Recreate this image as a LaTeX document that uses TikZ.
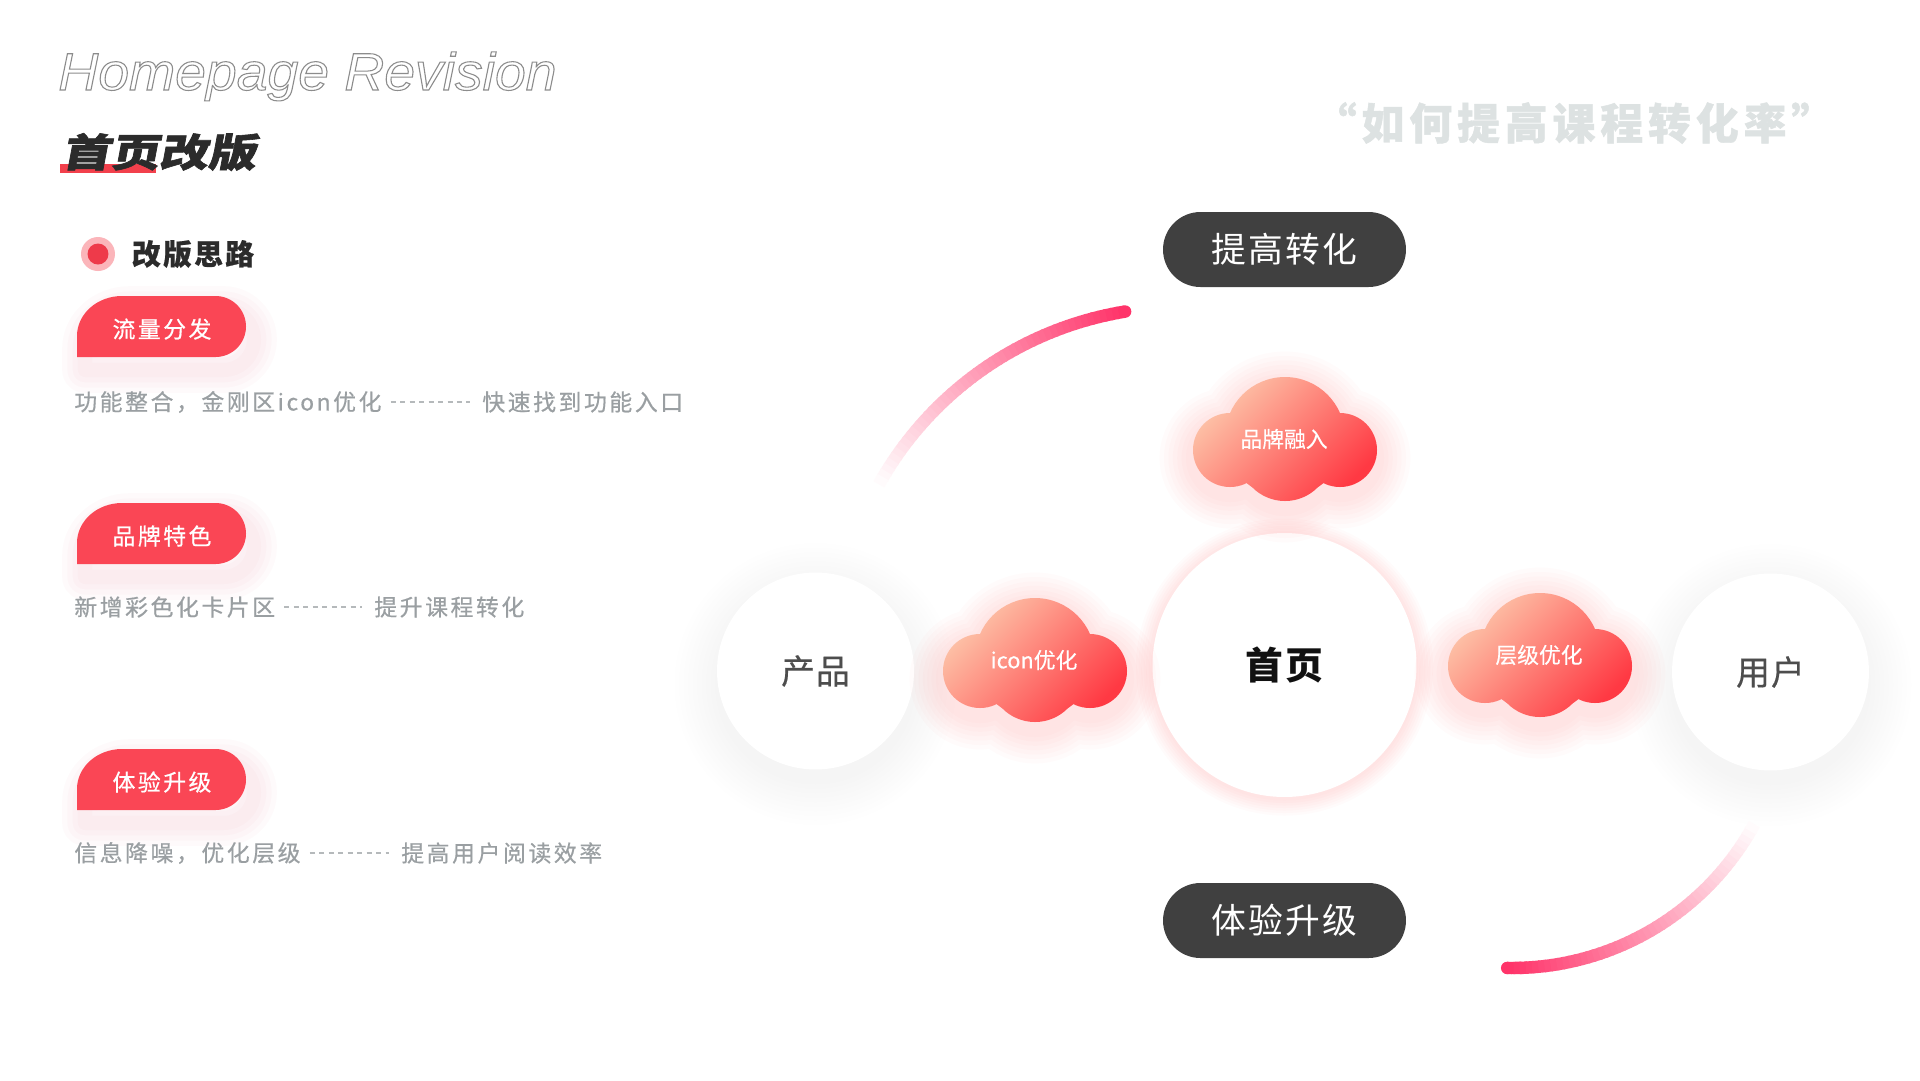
\documentclass[tikz,border=0pt]{standalone}
\usepackage{fontspec}
\usepackage{graphicx}
\setmainfont{Liberation Sans}
\newfontfamily\cjk{Noto Sans CJK SC}
\newcommand\fs[1]{\fontsize{#1pt}{#1pt}\selectfont}
\definecolor{ctitle}{HTML}{8C8C8C}
\definecolor{cdark}{HTML}{2B2B2B}
\definecolor{chead}{HTML}{F2404C}
\definecolor{cpinkl}{HTML}{FBB5BA}
\definecolor{cdot}{HTML}{EE3A4A}
\definecolor{ctab}{HTML}{FA4655}
\definecolor{cdesc}{HTML}{9A9FA2}
\definecolor{cdash}{HTML}{B5B9BB}
\definecolor{cquote}{HTML}{DDE2E2}
\definecolor{cpill}{HTML}{404040}
\definecolor{cpeach}{HTML}{FDC6AA}
\definecolor{ccloud}{HTML}{FF3943}
\definecolor{carc}{HTML}{FF346A}
\definecolor{cglow}{HTML}{FF5050}
\definecolor{chome}{HTML}{111111}
\definecolor{cside}{HTML}{4D4D4D}
\newcommand\tabpath[2]{(#1,#2+61) -- (#1,#2+40) arc[start angle=180,end angle=270,x radius=45,y radius=40] -- (#1+138.5,#2) arc[start angle=270,end angle=450,radius=30.5] -- cycle}
\newcommand\cloudshape[2]{(#1+92,#2+60) circle[radius=60] (#1+37,#2+73) circle[radius=37] (#1+147,#2+73) circle[radius=37] (#1+92,#2+78) circle[radius=46]}
\begin{document}
\begin{tikzpicture}[x=0.02cm,y=-0.02cm,
  tabtext/.style={inner sep=0,text=white,font=\cjk\fs{13}\addfontfeatures{LetterSpace=10.9,FakeBold=0.6}},
  desc/.style={anchor=west,inner sep=0,text=cdesc,font=\cjk\fs{13}\addfontfeatures{LetterSpace=11.3,FakeBold=0.5}},
  dashline/.style={cdash,line width=0.68pt,dash pattern=on 2.83pt off 2.55pt,shorten <=0.18cm,shorten >=0.24cm},
  pill/.style={rectangle,rounded corners=0.749cm,fill=cpill,minimum width=4.86cm,minimum height=1.5cm,inner sep=0,text=white,font=\cjk\fs{19.8}\addfontfeatures{LetterSpace=5.7}},
  sidecircle/.style={circle,fill=white,inner sep=0,minimum size=3.94cm,text=cside,font=\cjk\fs{19.3}\addfontfeatures{LetterSpace=3,FakeBold=0.4}},
  cloudtext/.style={inner sep=0,text=white,font=\cjk\fs{12.4}\addfontfeatures{FakeBold=0.3}}]
\fill[white] (0,0) rectangle (1920,1080);
\useasboundingbox (0,0) rectangle (1920,1080);

% ---------- shadows of circles ----------
\foreach \i in {1,...,10}{
  \fill[black,opacity=0.0045] (815.5,684) circle[radius=96+4.5*\i];
  \fill[black,opacity=0.0045] (1770.5,685) circle[radius=96+4.5*\i];
}
\foreach \i in {1,...,7}{
  \fill[cglow,opacity=0.02] (1284.5,667) circle[radius=131+2.5*\i];
}

% ---------- decorative arcs ----------
\foreach \i in {0,...,47}{
  \pgfmathsetmacro\aS{-99.3-51.2*\i/48}
  \pgfmathsetmacro\aE{-99.3-51.2*(\i+1.3)/48}
  \pgfmathsetmacro\mix{100*(1-\i/48)}
  \draw[line width=7.1pt,carc!\mix!white] ({1181+346*cos(\aS)},{653+346*sin(\aS)}) arc[start angle=\aS,end angle=\aE,radius=346];
}
\fill[carc] ({1181+346*cos(-99.3)},{653+346*sin(-99.3)}) circle[radius=6.25];
\foreach \i in {0,...,47}{
  \pgfmathsetmacro\aS{91-62*\i/48}
  \pgfmathsetmacro\aE{91-62*(\i+1.3)/48}
  \pgfmathsetmacro\mix{100*(1-\i/48)}
  \draw[line width=7.1pt,carc!\mix!white] ({1512+276*cos(\aS)},{692+276*sin(\aS)}) arc[start angle=\aS,end angle=\aE,radius=276];
}
\fill[carc] ({1512+276*cos(91)},{692+276*sin(91)}) circle[radius=6.25];

% ---------- circles ----------
\node[sidecircle] (prod) at (815.5,671) {产品};
\node[sidecircle] (user) at (1770.5,672) {用户};
\node[circle,fill=white,inner sep=0,minimum size=5.28cm,text=chome,font=\cjk\bfseries\fs{21.5}\addfontfeatures{LetterSpace=5}] (home) at (1284.5,665) {首页};

% ---------- clouds ----------
\foreach \cx/\cy in {1193/377,943/598,1448/593}{
  \begin{scope}[shift={(0,8)}]
    \foreach \w in {38,33,28,23,18,13,8}{
      \draw[cglow,opacity=0.02,line width=\w pt] \cloudshape{\cx}{\cy};
    }
  \end{scope}
  \shade[top color=cpeach,bottom color=ccloud,shading angle=45] \cloudshape{\cx}{\cy};
}
\node[cloudtext] (brand) at (1284,439) {品牌融入};
\node[cloudtext] (icon) at (1034,660) {icon优化};
\node[cloudtext] (level) at (1539,655) {层级优化};

% ---------- pills ----------
\node[pill] (conv) at (1284.5,249.5) {提高转化};
\node[pill] (exp) at (1284.5,920.5) {体验升级};

% ---------- quote ----------
\node[inner sep=0,text=cquote,font=\cjk\bfseries\fs{24.4}\addfontfeatures{LetterSpace=11.4,FakeBold=1}] (quote) at (1574,123) {“如何提高课程转化率”};

% ---------- title ----------
\node[anchor=base west,inner sep=0,text=ctitle] (entitle) at (58,90) {\scalebox{1.05}[1]{\fs{30}\itshape\special{pdf:literal direct 0.6 w 1 Tr}Homepage Revision\special{pdf:literal direct 0 Tr}}};
\fill[chead] (60,164) rectangle (156,173);
\node[inner sep=0,text=cdark] (head) at (159,152) {\scalebox{1.25}[1]{\cjk\bfseries\fs{22.1}\addfontfeatures{FakeSlant=0.15,FakeBold=1.5}首页改版}};

% ---------- bullet ----------
\node[circle,fill=cpinkl,inner sep=0,minimum size=0.68cm] (bullet) at (98,254) {};
\node[circle,fill=cdot,inner sep=0,minimum size=0.42cm] (bulletin) at (98,254) {};
\node[inner sep=0,text=cdark,font=\cjk\bfseries\fs{16.4}\addfontfeatures{LetterSpace=8,FakeBold=0.6}] (idea) at (193,254) {改版思路};

% ---------- tabs ----------
\foreach \ty in {296,503,749}{
  \begin{scope}[shift={(8,13)}]
    \foreach \w in {26,20,14,8}{
      \draw[ctab,opacity=0.022,line width=\w pt,line join=round] \tabpath{77}{\ty};
    }
  \end{scope}
  \fill[ctab] \tabpath{77}{\ty};
}
\node[tabtext] (tab1) at (162,329) {流量分发};
\node[tabtext] (tab2) at (162,536) {品牌特色};
\node[tabtext] (tab3) at (162,782) {体验升级};

% ---------- descriptions ----------
\node[desc] (d1a) at (74,402) {功能整合，金刚区icon优化};
\node[desc] (d1b) at (482,402) {快速找到功能入口};
\draw[dashline] (d1a.east) -- (d1b.west);
\node[desc] (d2a) at (74,607) {新增彩色化卡片区};
\node[desc] (d2b) at (374,607) {提升课程转化};
\draw[dashline] (d2a.east) -- (d2b.west);
\node[desc] (d3a) at (74,853) {信息降噪，优化层级};
\node[desc] (d3b) at (401,853) {提高用户阅读效率};
\draw[dashline] (d3a.east) -- (d3b.west);
\end{tikzpicture}
\end{document}
